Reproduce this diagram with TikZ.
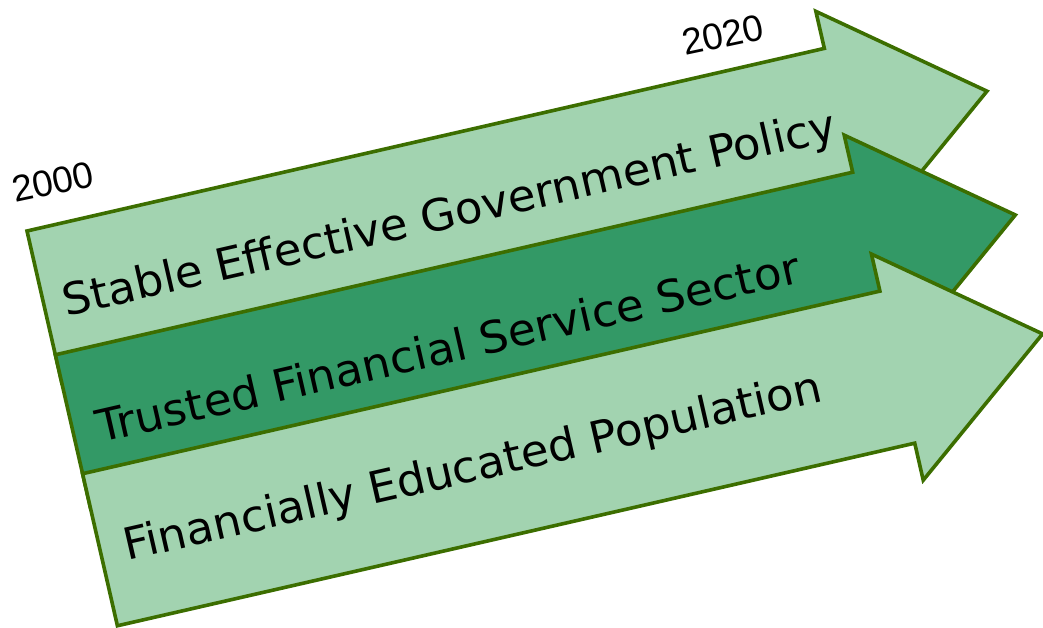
\documentclass[tikz,border=0pt]{standalone}
\usepackage{fontspec}
\setmainfont{DejaVu Sans}
\newfontfamily\yearfont{Liberation Sans}
\definecolor{lightg}{HTML}{A2D3B0}
\definecolor{darkg}{HTML}{339966}
\definecolor{edgeg}{HTML}{3C6E00}
\tikzset{
  arrowshape/.style={draw=edgeg, line width=3.6pt, line join=miter},
  bandtext/.style={anchor=base west, inner sep=0pt, font=\fontsize{44}{44}\selectfont, text=black},
  yeartext/.style={anchor=base west, inner sep=0pt, font=\yearfont\fontsize{37}{37}\selectfont, text=black, rotate=12}
}
\newcommand{\bigarrow}[3]{% name, offset, colour
  \path[arrowshape, fill=#3] (0,-#2) -- (818,-#2) -- (818,-#2+38) -- (967,-#2-78)
    -- (818,-#2-194) -- (818,-#2-156) -- (0,-#2-156) -- cycle;
}
\begin{document}
\begin{tikzpicture}[x=1pt,y=1pt]
\useasboundingbox (0,0) rectangle (1043,-628);
\begin{scope}[shift={(27,-231)}, rotate=12.9, transform shape]
  \bigarrow{a1}{0}{lightg}
  \bigarrow{a2}{127}{darkg}
  \bigarrow{a3}{249}{lightg}
  \node[bandtext] (t1) at (19,-92) {\resizebox{792pt}{\height}{Stable Effective Government Policy}};
  \node[bandtext] (t2) at (24,-223) {\resizebox{720pt}{\height}{Trusted Financial Service Sector}};
  \node[bandtext] (t3) at (24,-344) {\resizebox{715pt}{\height}{Financially Educated Population}};
\end{scope}
\node[yeartext] (y1) at (15,-203) {2000};
\node[yeartext] (y2) at (685,-56) {2020};
\end{tikzpicture}
\end{document}
